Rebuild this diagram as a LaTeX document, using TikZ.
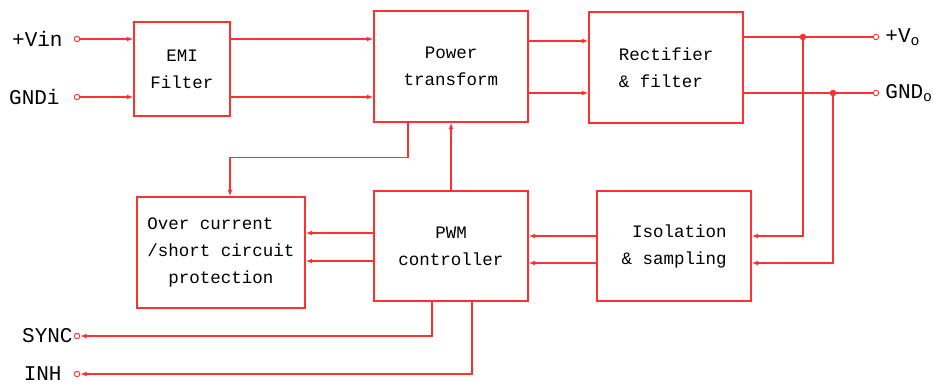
\documentclass[tikz,border=0pt]{standalone}
\usepackage{fontspec}
\newfontfamily\blockfont{Liberation Mono}
\usetikzlibrary{positioning,calc,arrows.meta}
\definecolor{cred}{HTML}{FF3030}

\begin{document}
\begin{tikzpicture}[x=1pt,y=-1pt,
  blk/.style={draw=cred,line width=1.4pt,inner sep=0pt,
    font=\blockfont\fontsize{17.5}{27}\selectfont},
  wire/.style={cred,line width=1.3pt},
  arr/.style={wire,-{Latex[length=6.5pt,width=5pt]}},
  term/.style={circle,draw=cred,line width=0.9pt,fill=white,
    minimum size=5.5pt,inner sep=0pt},
  jdot/.style={circle,fill=cred,minimum size=6.5pt,inner sep=0pt},
  lbl/.style={inner sep=0pt,font=\blockfont\fontsize{21}{21}\selectfont}]
  \useasboundingbox (0,0) rectangle (933,383);

  % power path
  \node[blk,align=center,minimum width=96pt,minimum height=94pt] (emi) at (182,69)
    {EMI\\Filter};
  \node[blk,align=center,minimum width=154pt,minimum height=111pt] (pwr) at (451,66.5)
    {Power\\transform};
  \node[blk,align=left,minimum width=154pt,minimum height=111pt] (rect) at (666,67.5)
    {Rectifier\\\& filter};
  % control path
  \node[blk,align=center,minimum width=168pt,minimum height=111pt] (oc) at (221,252.5)
    {Over current\phantom{xx}\\/short circuit\\protection};
  \node[blk,align=center,minimum width=154pt,minimum height=110pt] (pwm) at (451,246)
    {PWM\\controller};
  \node[blk,align=right,minimum width=154pt,minimum height=110pt] (iso) at (674,246)
    {Isolation\\\& sampling};

  % terminals
  \node[term] (vin) at (77,39) {};
  \node[term] (gndi) at (77,97) {};
  \node[term] (vo) at (876,37) {};
  \node[term] (gndo) at (876,93) {};
  \node[term] (sync) at (77,336) {};
  \node[term] (inh) at (77,374) {};
  \node[lbl,left=11pt of vin] (vinlbl) {+Vin};
  \node[lbl,left=14pt of gndi] (gndilbl) {GNDi};
  \node[lbl,right=6pt of vo] (volbl) {+V\textsubscript{o}};
  \node[lbl,right=6pt of gndo] (gndolbl) {GND\textsubscript{o}};
  \node[lbl,left=1pt of sync] (synclbl) {SYNC};
  \node[lbl,left=12pt of inh] (inhlbl) {INH};

  % input side
  \draw[arr] (vin) -- (vin -| emi.west);
  \draw[arr] (gndi) -- (gndi -| emi.west);
  \draw[arr] (emi.east |- vin) -- (pwr.west |- vin);
  \draw[arr] (emi.east |- gndi) -- (pwr.west |- gndi);
  \coordinate (p1) at ($(pwr.east)+(0,-25.5)$);
  \coordinate (p2) at ($(pwr.east)+(0,26.5)$);
  \draw[arr] (p1) -- (p1 -| rect.west);
  \draw[arr] (p2) -- (p2 -| rect.west);

  % output side
  \node[jdot] (j1) at (803,37) {};
  \node[jdot] (j2) at (833,93) {};
  \draw[wire] (j1 -| rect.east) -- (vo);
  \draw[wire] (j2 -| rect.east) -- (gndo);

  % sampling loop
  \coordinate (s1) at ($(iso.east)+(0,-10)$);
  \coordinate (s2) at ($(iso.east)+(0,17)$);
  \draw[arr] (j1) |- (s1);
  \draw[arr] (j2) |- (s2);
  \draw[arr] (iso.west |- s1) -- (pwm.east |- s1);
  \draw[arr] (iso.west |- s2) -- (pwm.east |- s2);
  \coordinate (o1) at ($(pwm.west)+(0,-13)$);
  \coordinate (o2) at ($(pwm.west)+(0,15)$);
  \draw[arr] (o1) -- (o1 -| oc.east);
  \draw[arr] (o2) -- (o2 -| oc.east);
  \draw[arr] ($(pwr.south)+(-43,0)$) -- ++(0,34.5) -| ($(oc.north)+(9,0)$);
  \draw[arr] (pwm.north) -- (pwr.south);

  % control pins
  \draw[arr] ($(pwm.south)+(-19,0)$) |- (sync);
  \draw[arr] ($(pwm.south)+(21,0)$) |- (inh);
\end{tikzpicture}
\end{document}
